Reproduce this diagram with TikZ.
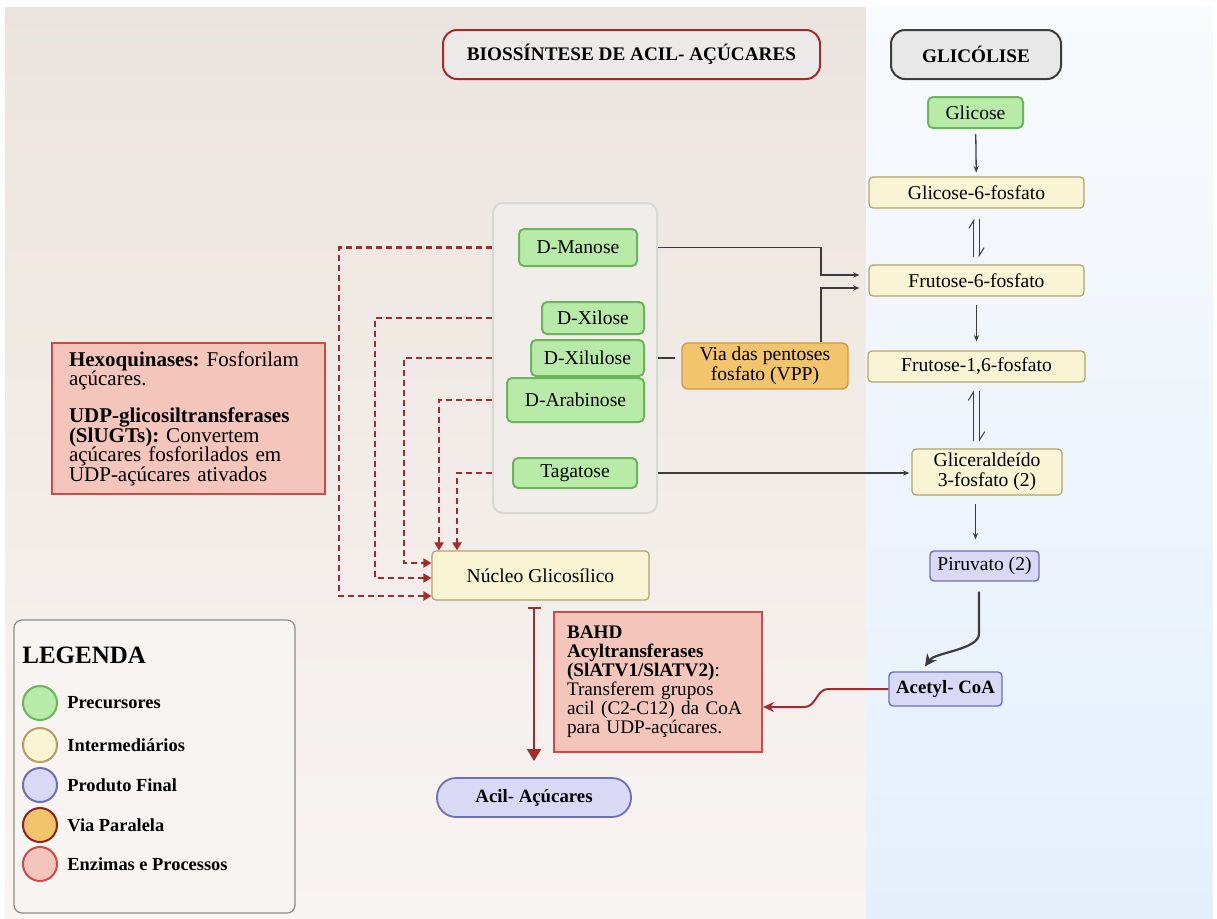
\documentclass[tikz,border=0pt]{standalone}
\usepackage{fontspec}
\setmainfont{Liberation Serif}
\usetikzlibrary{arrows.meta}

\definecolor{fundoesqA}{HTML}{EBE4DE}
\definecolor{fundoesqB}{HTML}{F8F4F2}
\definecolor{fundodirA}{HTML}{F8FAFC}
\definecolor{fundodirB}{HTML}{E5EFFC}
\definecolor{precfill}{HTML}{B8EBA8}
\definecolor{precdraw}{HTML}{6DB55C}
\definecolor{interfill}{HTML}{F9F4D4}
\definecolor{interdraw}{HTML}{B3A46C}
\definecolor{prodfill}{HTML}{D9D9F6}
\definecolor{proddraw}{HTML}{6E70B5}
\definecolor{parafill}{HTML}{F2C46C}
\definecolor{paradraw}{HTML}{D09A45}
\definecolor{enzfill}{HTML}{F3C5BB}
\definecolor{enzdraw}{HTML}{D04848}
\definecolor{vermelho}{HTML}{A52A2A}
\definecolor{cinza}{HTML}{3C3C3C}
\definecolor{titfill}{HTML}{ECEAE9}
\definecolor{grupofill}{HTML}{F1EDEA}
\definecolor{grupodraw}{HTML}{D8D8D2}

\newcommand{\apertado}{\lineskiplimit-5pt\relax\frenchspacing}

\tikzset{
    caixa/.style = {draw, rounded corners = 2pt, line width = .6pt, inner sep = 0pt, align = center, font = \fontsize{9.8}{9.8}\selectfont},
    negrito/.style = {font = \fontsize{9.4}{9.4}\selectfont\bfseries},
    titulo/.style = {caixa, fill = titfill, line width = 1pt, rounded corners = 7pt, minimum height = 24.5pt, font = \fontsize{9.6}{9.6}\selectfont\bfseries},
    precursor/.style = {caixa, fill = precfill, draw = precdraw, line width = 1pt, rounded corners = 2.5pt},
    intermed/.style = {caixa, fill = interfill, draw = interdraw},
    produto/.style = {caixa, fill = prodfill, draw = proddraw, line width = .7pt},
    paralela/.style = {caixa, fill = parafill, draw = paradraw, line width = .7pt, rounded corners = 3pt},
    enzima/.style = {caixa, fill = enzfill, draw = enzdraw, line width = 1pt, rounded corners = 0pt, align = left, inner xsep = 8.5pt},
    grupo/.style = {draw = grupodraw, fill = grupofill, line width = 1pt, rounded corners = 5pt},
    legcirc/.style = {circle, line width = 1pt, minimum size = 17pt, inner sep = 0pt},
    legtexto/.style = {anchor = west, inner sep = 0pt, font = \fontsize{9.2}{9.2}\selectfont\bfseries},
    linha/.style = {cinza, line width = .65pt},
    seta/.style = {linha, -{Stealth[length = 3.2pt, width = 2.6pt]}},
    equil/.style = {cinza, line width = .5pt, -{Straight Barb[harpoon, length = 4pt, width = 5pt]}},
    setagrossa/.style = {cinza, line width = 1.1pt, -{Stealth[length = 6pt, width = 6pt]}},
    tracejada/.style = {vermelho, line width = 1.3pt, dash pattern = on 3pt off 2pt, -{Triangle[length = 4pt, width = 4.5pt]}},
    setaverm/.style = {vermelho, line width = 1pt, -{Stealth[length = 5.5pt, width = 5pt]}},
    inibe/.style = {vermelho, line width = 1pt, {Bar[width = 6.5pt]}-{Triangle[length = 6pt, width = 7pt]}}
}

\begin{document}
\begin{tikzpicture}[x = .5pt, y = -.5pt]
    \useasboundingbox (0, 0) rectangle (1217, 918);
    \fill [white] (0, 0) rectangle (1217, 918);
    \shade [top color = fundoesqA, bottom color = fundoesqB] (5, 7) rectangle (866, 918);
    \shade [top color = fundodirA, bottom color = fundodirB] (866, 7) rectangle (1213, 918);

    % titulos
    \node [titulo, draw = vermelho, minimum width = 188.5pt] (tacil) at (631.5, 54.5) {BIOSSÍNTESE DE ACIL- AÇÚCARES};
    \node [titulo, draw = cinza, fill = black!9, minimum width = 85pt] (tglic) at (976, 54.5) {GLICÓLISE};

    % glicolise
    \node [precursor, minimum width = 47.5pt, minimum height = 15.5pt] (glicose) at (975.5, 112.5) {Glicose};
    \node [intermed, minimum width = 107.5pt, minimum height = 15.5pt] (g6p) at (976.5, 192.5) {Glicose-6-fosfato};
    \node [intermed, minimum width = 107.5pt, minimum height = 15.5pt] (f6p) at (976.5, 280.5) {Frutose-6-fosfato};
    \node [intermed, minimum width = 108.5pt, minimum height = 15.5pt] (f16p) at (976.5, 366.5) {Frutose-1,6-fosfato};
    \node [intermed, minimum width = 75pt, minimum height = 23pt] (g3p) at (987, 472) {Gliceraldeído\\3-fosfato (2)};
    \node [produto, minimum width = 54.5pt, minimum height = 15pt] (piruvato) at (984.5, 566) {Piruvato (2)};
    \node [produto, negrito, minimum width = 56.5pt, minimum height = 17pt] (acetil) at (945.5, 689) {Acetyl- CoA};

    % acucares
    \node [grupo, minimum width = 82pt, minimum height = 155pt] (grupo) at (575, 358) {};
    \node [precursor, minimum width = 59pt, minimum height = 18.5pt] (manose) at (578, 247.5) {D-Manose};
    \node [precursor, minimum width = 51pt, minimum height = 16pt] (xilose) at (593, 318) {D-Xilose};
    \node [precursor, minimum width = 56.5pt, minimum height = 18pt] (xilulose) at (587.5, 358) {D-Xilulose};
    \node [precursor, minimum width = 68.5pt, minimum height = 22pt] (arabinose) at (575.5, 400) {D-Arabinose};
    \node [precursor, minimum width = 62pt, minimum height = 15pt] (tagatose) at (575, 473) {Tagatose};
    \node [paralela, minimum width = 83pt, minimum height = 23pt] (vpp) at (765, 366) {Via das pentoses\\fosfato (VPP)};
    \node [intermed, minimum width = 108.5pt, minimum height = 24.5pt] (nucleo) at (540.5, 575.5) {Núcleo Glicosílico};
    \node [produto, negrito, rounded corners = 9.5pt, line width = .9pt, minimum width = 97pt, minimum height = 19.5pt] (acil) at (534, 797.5) {Acil- Açúcares};

    % enzimas
    \node [enzima, minimum width = 136.5pt, minimum height = 75.5pt, text width = 119.5pt, font = {\fontsize{10.5}{9.7}\selectfont\apertado}] (hexo) at (188.5, 418.5) {\textbf{Hexoquinases:} Fosforilam\\ açúcares.\\[9pt] \textbf{UDP-glicosiltransferases}\\ \textbf{(SlUGTs):} Convertem\\ açúcares fosforilados em\\ UDP-açúcares ativados};
    \node [enzima, minimum width = 104pt, minimum height = 70pt, text width = 91pt, inner xsep = 6.5pt, font = {\fontsize{9.6}{9.5}\selectfont\apertado}] (bahd) at (658, 682) {\textbf{BAHD}\\ \textbf{Acyltransferases}\\ \textbf{(SlATV1/SlATV2)}:\\ Transferem grupos\\ acil (C2-C12) da CoA\\ para UDP-açúcares.};

    % setas da glicolise
    \draw [seta, shorten < = 2.5pt, shorten > = 2pt] (glicose) -- (g6p);
    \draw [equil, shorten < = 3.5pt, shorten > = 5pt] ([xshift = -1.3pt] f6p.north) -- ([xshift = -1.3pt] g6p.south);
    \draw [equil, shorten < = 5pt, shorten > = 3.5pt] ([xshift = 1.3pt] g6p.south) -- ([xshift = 1.3pt] f6p.north);
    \draw [seta, shorten < = 4pt, shorten > = 4.5pt] (f6p) -- (f16p);
    \coordinate (g3ptopo) at (g3p.north -| f16p);
    \draw [equil, shorten < = 3.5pt, shorten > = 4pt] ([xshift = -1.6pt] g3ptopo) -- ([xshift = -1.6pt] f16p.south);
    \draw [equil, shorten < = 4pt, shorten > = 3.5pt] ([xshift = 1.6pt] f16p.south) -- ([xshift = 1.6pt] g3ptopo);
    \draw [seta, shorten < = 4pt, shorten > = 5.5pt] (g3p.south -| glicose) -- (piruvato.north -| glicose);
    \draw [setagrossa] ([shift = {(-2.75pt, -5pt)}] piruvato.south) -- ++(0, 42) .. controls +(0, 16) and +(10, -14) .. ([shift = {(-10.25pt, 2.5pt)}] acetil.north);

    % ligacoes dos acucares
    \coordinate (dobra) at (821, 262);
    \draw [seta, shorten > = 4.5pt] (grupo.east |- manose) -| (dobra) |- ([yshift = 2.75pt] f6p.west);
    \draw [seta, shorten > = 4.5pt] (vpp.north -| dobra) |- ([yshift = -3.75pt] f6p.west);
    \draw [linha, shorten > = 3pt] (grupo.east |- xilulose) -- (vpp.west |- xilulose);
    \draw [seta, shorten > = 1pt] (grupo.east |- tagatose) -- (g3p.west |- tagatose);

    % fosforilacao
    \draw [tracejada] (grupo.west |- manose) -| (339, 420) |- ([yshift = -10.25pt] nucleo.west);
    \draw [tracejada] (grupo.west |- xilose) -| (375, 450) |- ([yshift = -1.25pt] nucleo.west);
    \draw [tracejada] (grupo.west |- xilulose) -| (404, 460) |- ([yshift = 6.25pt] nucleo.west);
    \draw [tracejada] (grupo.west |- arabinose) -| ([xshift = -50.75pt] nucleo.north);
    \draw [tracejada] (grupo.west |- tagatose) -| ([xshift = -41.75pt] nucleo.north);

    % acilacao
    \draw [inibe, shorten < = 3pt, shorten > = 8pt] (nucleo.south -| acil.north) -- (acil.north);
    \draw [setaverm] (acetil.west) -- ++(-60, 0) .. controls +(-12, 0) and +(12, 0) .. ++(-24, 18) -- ([yshift = -12.5pt] bahd.east);

    % legenda
    \node [draw = black!45, fill = fundoesqB, line width = .6pt, rounded corners = 4pt, minimum width = 140.5pt, minimum height = 146.5pt] (legbox) at (154.5, 766.5) {};
    \node [anchor = west, inner sep = 0pt, font = \fontsize{12.5}{12.5}\selectfont\bfseries] (legtit) at (22, 655) {LEGENDA};
    \node [legcirc, fill = precfill, draw = precdraw] (leg1) at (40, 703) {};
    \node [legcirc, fill = interfill, draw = interdraw!80!brown] (leg2) at (40, 745) {};
    \node [legcirc, fill = prodfill, draw = proddraw] (leg3) at (40, 785) {};
    \node [legcirc, fill = parafill, draw = vermelho!85!black] (leg4) at (40, 825) {};
    \node [legcirc, fill = enzfill, draw = enzdraw] (leg5) at (40, 864) {};
    \node [legtexto] (legt1) at ([xshift = 4.5pt] leg1.east) {Precursores};
    \node [legtexto] (legt2) at ([xshift = 4.5pt] leg2.east) {Intermediários};
    \node [legtexto] (legt3) at ([xshift = 4.5pt] leg3.east) {Produto Final};
    \node [legtexto] (legt4) at ([xshift = 4.5pt] leg4.east) {Via Paralela};
    \node [legtexto] (legt5) at ([xshift = 4.5pt] leg5.east) {Enzimas e Processos};
\end{tikzpicture}
\end{document}
